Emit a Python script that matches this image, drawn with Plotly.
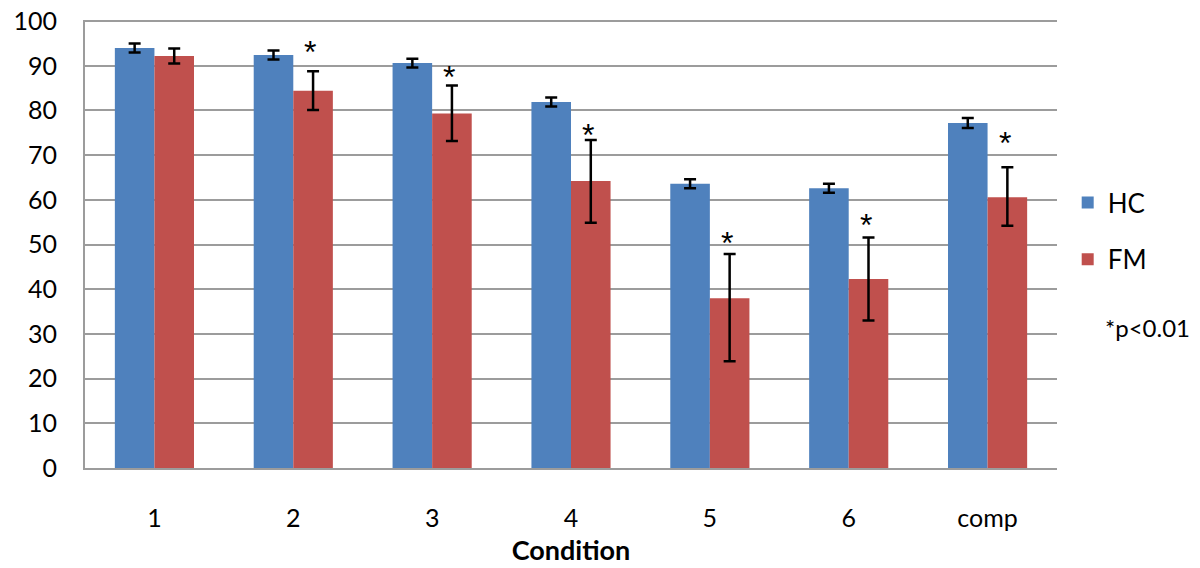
import plotly.graph_objects as go

categories = ["1", "2", "3", "4", "5", "6", "comp"]
hc_values = [94.0, 92.4, 90.6, 81.9, 63.6, 62.6, 77.2]
hc_err = [1.0, 1.0, 1.0, 1.0, 1.0, 1.0, 1.1]
fm_values = [92.2, 84.4, 79.3, 64.2, 38.0, 42.3, 60.6]
fm_err_plus = [1.7, 4.4, 6.3, 9.2, 9.9, 9.3, 6.7]
fm_err_minus = [1.7, 4.3, 6.1, 9.3, 14.1, 9.3, 6.4]
star_y = [None, 94.2, 88.6, 75.7, 51.4, 55.5, 73.9]
y_ticks = [0, 10, 20, 30, 40, 50, 60, 70, 80, 90, 100]

FONT = "Lato, 'Liberation Sans', sans-serif"
STAR_FONT = "'Liberation Sans', Arial, sans-serif"
HC_COLOR = "#4F81BD"
FM_COLOR = "#C0504D"
GRID = "#9c9c9c"

fig = go.Figure()
fig.add_trace(go.Bar(
    x=categories, y=hc_values, name="HC", marker=dict(color=HC_COLOR, line=dict(width=0)),
    error_y=dict(type="data", array=hc_err, color="black", thickness=2.5, width=6),
    legendgroup="hc",
))
fig.add_trace(go.Bar(
    x=categories, y=fm_values, name="FM", marker=dict(color=FM_COLOR, line=dict(width=0)),
    error_y=dict(type="data", symmetric=False, array=fm_err_plus, arrayminus=fm_err_minus,
                 color="black", thickness=2.5, width=6),
    legendgroup="fm",
))

annotations = []
for i, sy in enumerate(star_y):
    if sy is None:
        continue
    annotations.append(dict(x=i, y=sy, xref="x", yref="y", text="*", showarrow=False,
                            xshift=17, yanchor="middle", yshift=-5,
                            font=dict(family=STAR_FONT, size=32, color="black")))
annotations.append(dict(x=1.047, y=0.313, xref="paper", yref="paper", text="*p<0.01",
                        showarrow=False, xanchor="left", yanchor="middle",
                        font=dict(family=FONT, size=24, color="black")))

fig.update_layout(
    width=1200, height=568,
    margin=dict(l=85, r=143, t=20, b=100),
    paper_bgcolor="white", plot_bgcolor="white",
    barmode="group", bargap=0.43, bargroupgap=0,
    font=dict(family=FONT, size=25, color="black"),
    showlegend=True,
    legend=dict(x=1.011, y=0.645, xanchor="left", yanchor="top",
                traceorder="grouped", tracegroupgap=20,
                font=dict(family=FONT, size=26, color="black"),
                bgcolor="rgba(0,0,0,0)"),
    annotations=annotations,
)
fig.update_xaxes(type="category", showgrid=False, showline=True, linecolor=GRID, linewidth=2,
                 ticks="", ticklabelstandoff=27, automargin=False, ticklabeloverflow="allow",
                 tickfont=dict(family=FONT, size=25, color="black"),
                 title=dict(text="<b>Condition</b>", standoff=10,
                            font=dict(family=FONT, size=27, color="black")))
fig.update_yaxes(range=[0, 100.25], tickvals=y_ticks, showgrid=True, gridcolor=GRID, gridwidth=2,
                 showline=True, linecolor=GRID, linewidth=2, zeroline=False,
                 ticks="", ticklabelstandoff=21, automargin=False, ticklabeloverflow="allow",
                 tickfont=dict(family=FONT, size=25, color="black"))

# remove the default page margin so the figure sits at the window's top-left corner
fig.write_html("out.html", config={"displayModeBar": False},
               post_script="document.body.style.margin='0';")
